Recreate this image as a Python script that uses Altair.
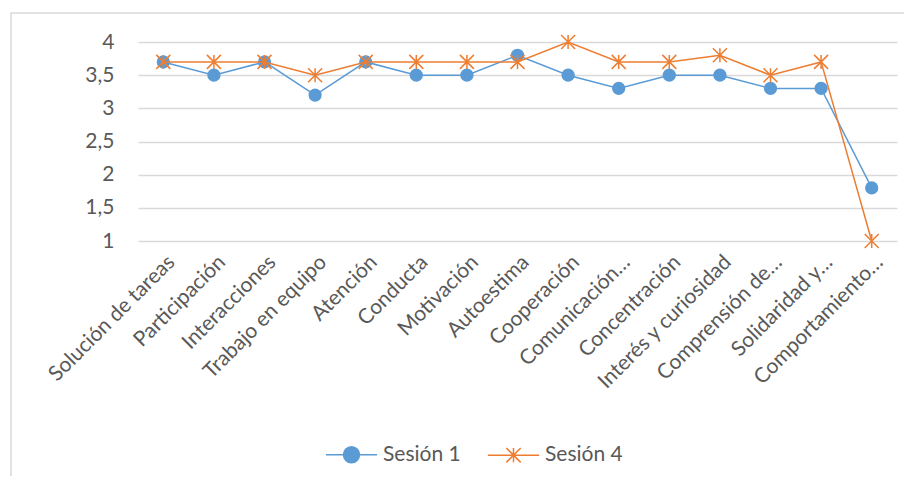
import altair as alt
import pandas as pd

categorias = [
    "Solución de tareas", "Participación", "Interacciones", "Trabajo en equipo",
    "Atención", "Conducta", "Motivación", "Autoestima", "Cooperación",
    "Comunicación…", "Concentración", "Interés y curiosidad",
    "Comprensión de…", "Solidaridad y…", "Comportamiento…",
]
sesion1 = [3.7, 3.5, 3.7, 3.2, 3.7, 3.5, 3.5, 3.8, 3.5, 3.3, 3.5, 3.5, 3.3, 3.3, 1.8]
sesion4 = [3.7, 3.7, 3.7, 3.5, 3.7, 3.7, 3.7, 3.7, 4.0, 3.7, 3.7, 3.8, 3.5, 3.7, 1.0]
series = ["Sesión 1", "Sesión 4"]
colores = ["#5B9BD5", "#ED7D31"]
y_ticks = [1, 1.5, 2, 2.5, 3, 3.5, 4]

rows = []
for c, v in zip(categorias, sesion1):
    rows.append({"Categoria": c, "Valor": v, "Serie": series[0]})
for c, v in zip(categorias, sesion4):
    rows.append({"Categoria": c, "Valor": v, "Serie": series[1]})
df = pd.DataFrame(rows)

FONT = "Lato"
FS = 21
STAR = "M-1,-1L1,1M-1,1L1,-1M0,-1V1"
LEG1 = "M-3.2,0H3.2M-1,0A1,1 0 1,0 1,0A1,1 0 1,0 -1,0"
LEG4 = "M-3.2,0H3.2M-0.9,-0.9L0.9,0.9M-0.9,0.9L0.9,-0.9M0,-0.9V0.9"

x_enc = alt.X(
    "Categoria:N", sort=categorias, title=None,
    scale=alt.Scale(type="point", padding=0.5),
    axis=alt.Axis(labelAngle=-45, labelFontSize=FS, labelColor="#595959",
                  labelFont=FONT, domain=False, ticks=False, labelPadding=10,
                  grid=False, labelOverlap=False, labelLimit=300),
)
y_enc = alt.Y(
    "Valor:Q", title=None,
    scale=alt.Scale(domain=[1, 4], nice=False, zero=False),
    axis=alt.Axis(values=y_ticks, labelFontSize=FS, labelColor="#595959",
                  labelFont=FONT, domain=False, ticks=False, labelPadding=24,
                  gridColor="#D9D9D9", gridWidth=1.5, labelOverlap=False,
                  labelExpr="replace(format(datum.value, '.1~f'), '.', ',')"),
)
color_scale = alt.Scale(domain=series, range=colores)

leg = alt.Legend(
    orient="none", legendX=203, legendY=402, direction="horizontal",
    symbolSize=256, labelFontSize=FS, labelColor="#595959", labelFont=FONT,
    labelOffset=21, columnPadding=23, symbolStrokeWidth=1.5, symbolOpacity=1,
)

base = alt.Chart(df).encode(
    x=x_enc, y=y_enc,
    color=alt.Color("Serie:N", scale=color_scale, title=None, legend=leg),
)

layers = []
for s in series:
    b = base.transform_filter(alt.datum.Serie == s)
    layers.append(b.mark_line(strokeWidth=1.5))
    if s == "Sesión 1":
        layers.append(b.mark_point(shape="circle", filled=True, size=175, opacity=1))
    else:
        layers.append(b.mark_point(shape=STAR, filled=False, size=196, strokeWidth=1.5, opacity=1))

legend_layer = alt.Chart(df).mark_point(
    filled=False, opacity=0, strokeWidth=1.5
).encode(
    x=x_enc, y=y_enc,
    color=alt.Color("Serie:N", scale=color_scale, title=None, legend=leg),
    fill=alt.Fill("Serie:N", scale=alt.Scale(domain=series, range=colores), title=None, legend=leg),
    shape=alt.Shape("Serie:N", scale=alt.Scale(domain=series, range=[LEG1, LEG4]), title=None, legend=leg),
)

frame = alt.Chart(pd.DataFrame({"k": [0]})).mark_rect(
    fill=None, stroke="#D9D9D9", strokeWidth=1.5
).encode(x=alt.value(-127), x2=alt.value(900), y=alt.value(-29), y2=alt.value(600))

chart = alt.layer(frame, *layers, legend_layer).properties(
    width=759, height=199,
    autosize=alt.AutoSizeParams(type="none"),
    padding={"left": 130, "top": 34, "right": 7, "bottom": 235},
).configure_view(stroke=None)

chart.save("out.html", embed_options={"renderer": "svg", "actions": False})
